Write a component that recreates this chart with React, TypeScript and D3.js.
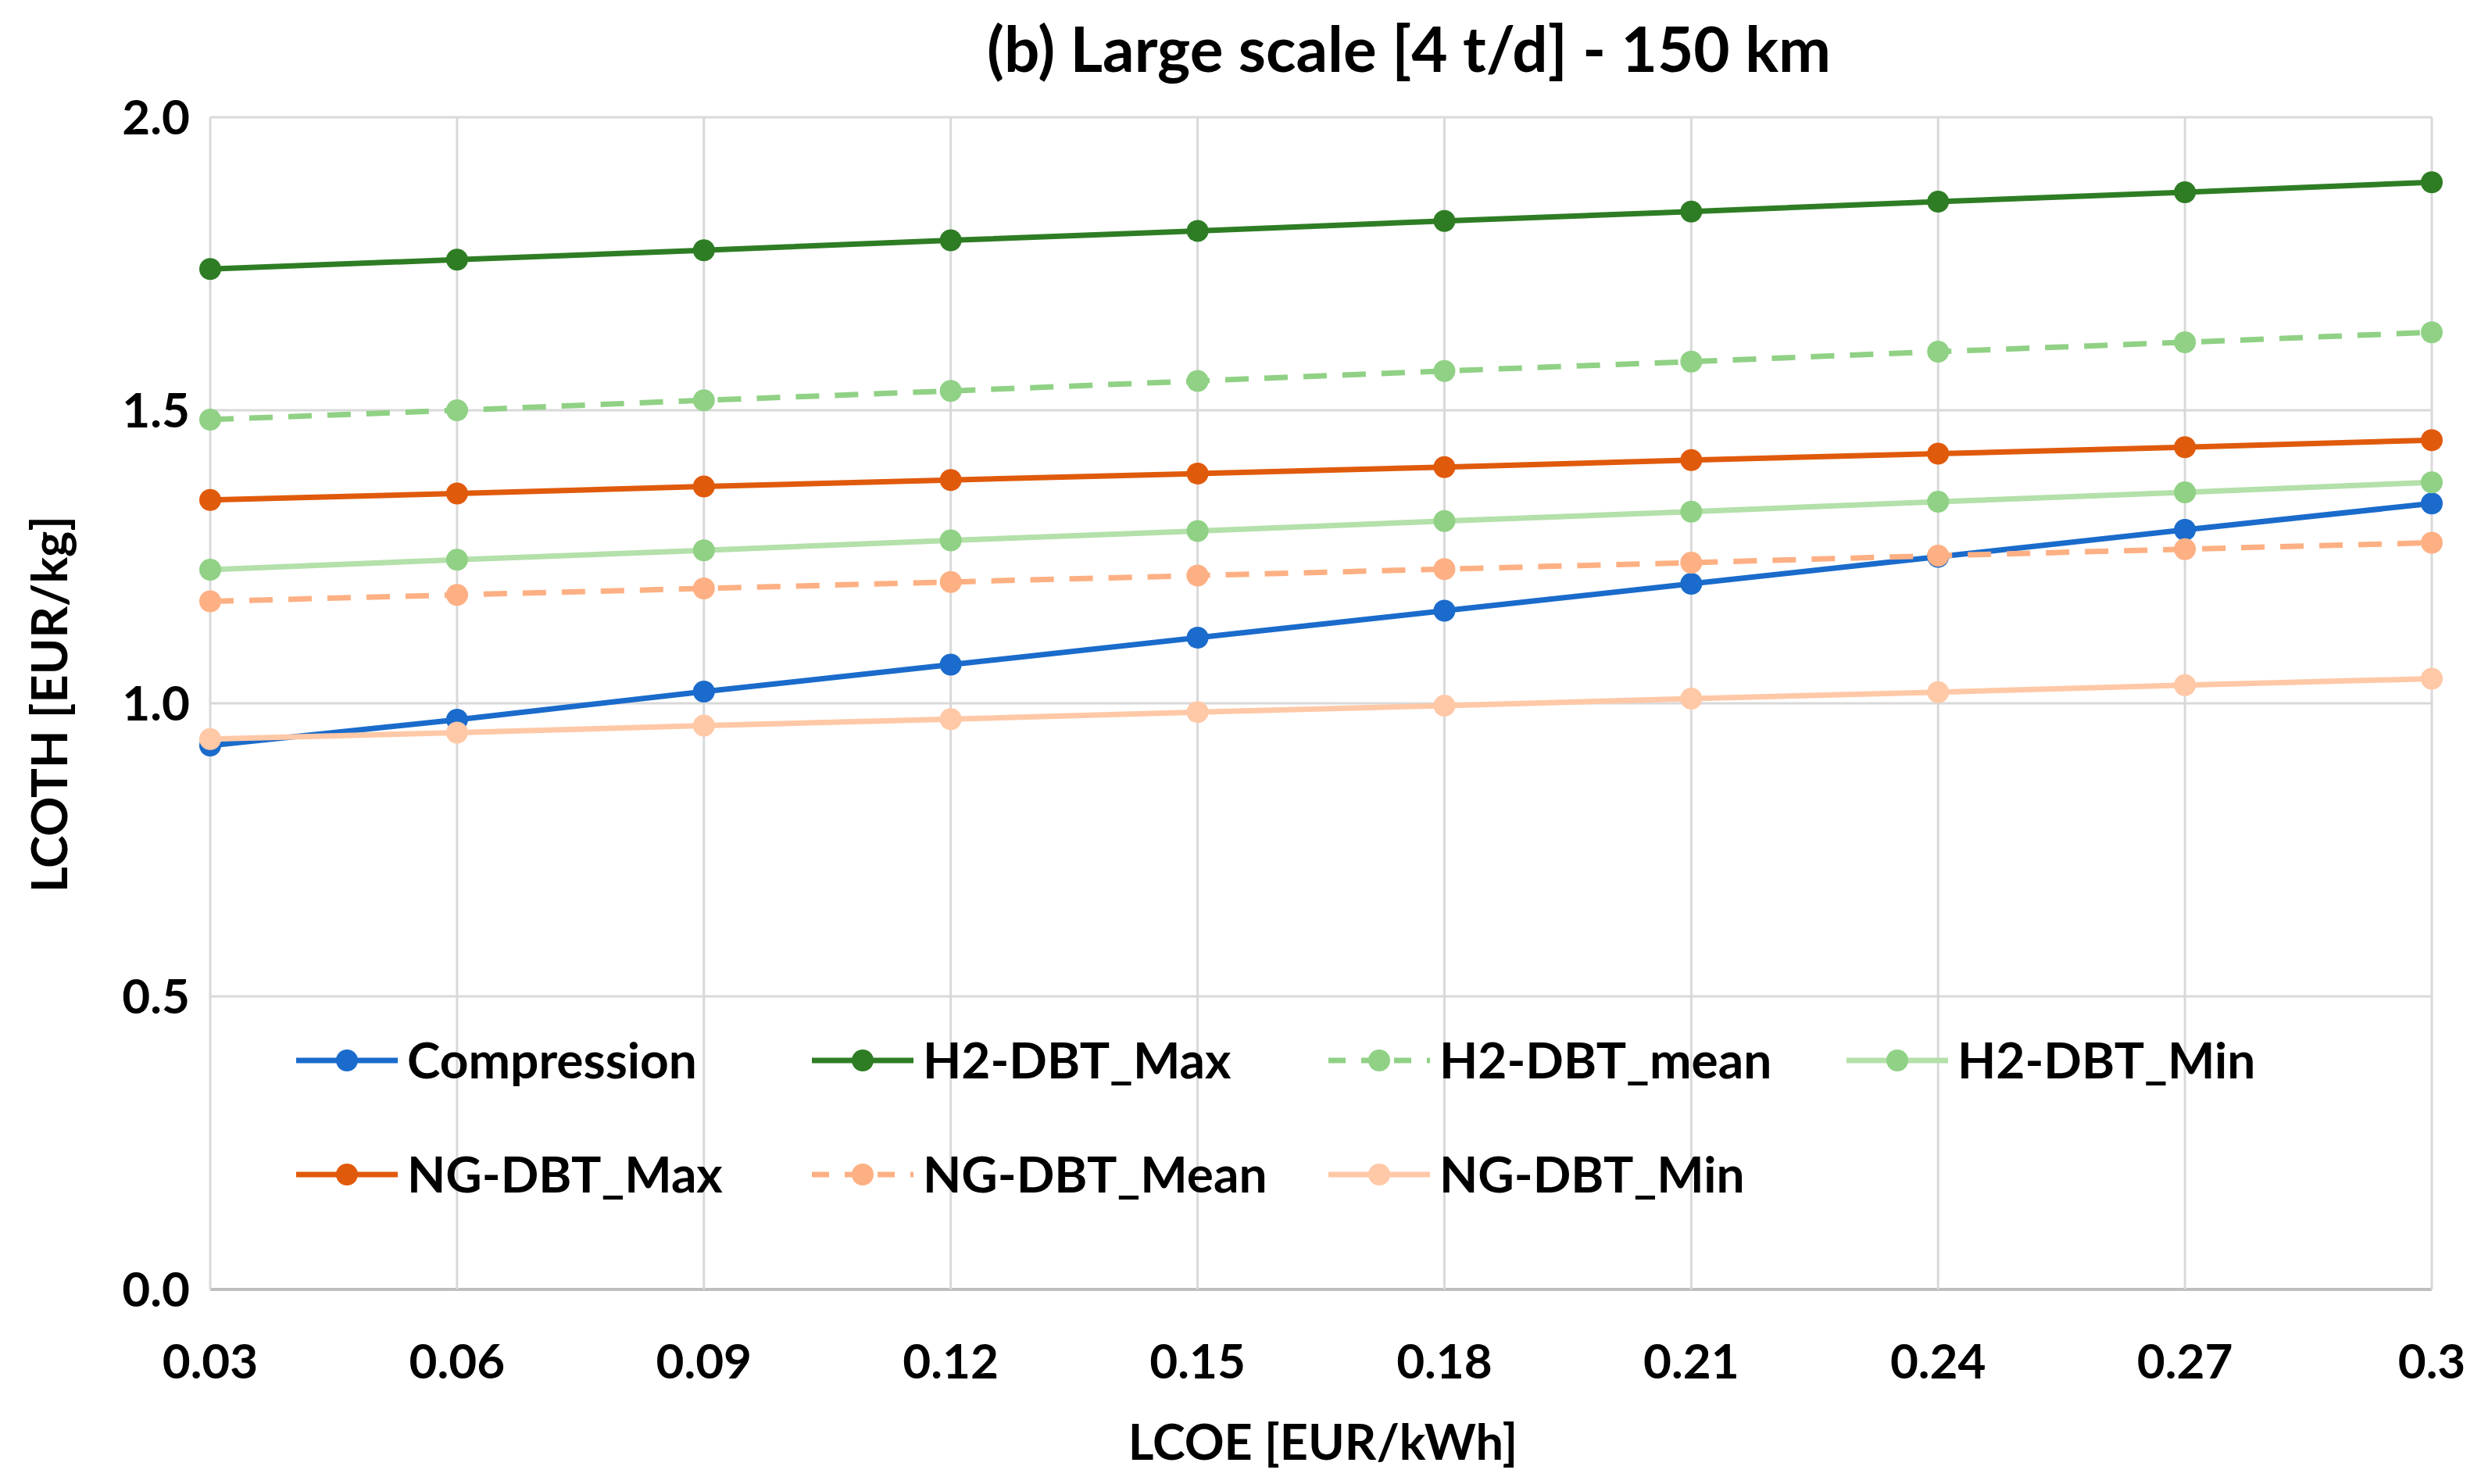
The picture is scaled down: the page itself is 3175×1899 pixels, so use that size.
import React from "react";
import * as d3 from "d3";

const lcoe = [0.03, 0.06, 0.09, 0.12, 0.15, 0.18, 0.21, 0.24, 0.27, 0.3];
const xTickLabels = ["0.03", "0.06", "0.09", "0.12", "0.15", "0.18", "0.21", "0.24", "0.27", "0.3"];
const yTicks = [0, 0.5, 1.0, 1.5, 2.0];

const compression = [0.928, 0.972, 1.02, 1.066, 1.112, 1.158, 1.204, 1.25, 1.296, 1.341];
const h2Max = [1.741, 1.757, 1.773, 1.79, 1.806, 1.823, 1.839, 1.856, 1.872, 1.889];
const h2Mean = [1.484, 1.5, 1.517, 1.533, 1.55, 1.567, 1.583, 1.6, 1.616, 1.633];
const h2Min = [1.228, 1.245, 1.261, 1.278, 1.294, 1.311, 1.327, 1.344, 1.36, 1.377];
const ngMax = [1.347, 1.358, 1.37, 1.381, 1.392, 1.403, 1.415, 1.426, 1.437, 1.449];
const ngMean = [1.174, 1.185, 1.196, 1.207, 1.218, 1.229, 1.24, 1.252, 1.263, 1.274];
const ngMin = [0.939, 0.95, 0.962, 0.973, 0.985, 0.996, 1.008, 1.019, 1.031, 1.042];

const seriesNames = ["Compression", "H2-DBT_Max", "H2-DBT_mean", "H2-DBT_Min", "NG-DBT_Max", "NG-DBT_Mean", "NG-DBT_Min"];
const seriesValues = [compression, h2Max, h2Mean, h2Min, ngMax, ngMean, ngMin];
const lineColors = ["#1A6BCB", "#2E7D24", "#90D185", "#B4E0AA", "#E05A0C", "#FDB083", "#FFC8A6"];
const markerColors = ["#1A6BCB", "#2E7D24", "#90D185", "#90D185", "#E05A0C", "#FDB083", "#FFC8A6"];
const dashed = [false, false, true, false, false, true, false];

const title = "(b) Large scale [4 t/d] - 150 km";
const xTitle = "LCOE [EUR/kWh]";
const yTitle = "LCOTH [EUR/kg]";

const W = 3175;
const H = 1899;
const FONT = "Lato, 'Open Sans', sans-serif";

export default function App() {
  const left = 269, right = 3112, top = 150, bottom = 1650;
  const x = d3.scaleLinear().domain([0.03, 0.3]).range([left, right]);
  const y = d3.scaleLinear().domain([0, 2]).range([bottom, top]);
  const line = d3.line<number>().x((_, i) => x(lcoe[i])).y((d) => y(d));

  const legendCols = [379, 1039, 1700, 2363];
  const legendRows = [1357, 1503];
  const legendPos = [
    [0, 0], [1, 0], [2, 0], [3, 0],
    [0, 1], [1, 1], [2, 1],
  ];
  const dashArr = "30 20";

  return (
    <svg width={W} height={H} style={{ position: "absolute", left: 0, top: 0, background: "#fff" }} fontFamily={FONT}>
      <rect x={0} y={0} width={W} height={H} fill="#fff" />
      {/* gridlines */}
      {yTicks.map((t) => (
        <line key={"gy" + t} x1={left} x2={right} y1={y(t)} y2={y(t)} stroke={t === 0 ? "#BFBFBF" : "#D9D9D9"} strokeWidth={t === 0 ? 4 : 3} />
      ))}
      {lcoe.map((v) => (
        <line key={"gx" + v} x1={x(v)} x2={x(v)} y1={top} y2={bottom} stroke="#D9D9D9" strokeWidth={3} />
      ))}
      {/* y tick labels */}
      {yTicks.map((t) => (
        <text key={"ty" + t} x={243} y={y(t)} dy="0.36em" textAnchor="end" fontSize={62} fontWeight={700} fill="#000">
          {d3.format(".1f")(t)}
        </text>
      ))}
      {/* x tick labels */}
      {lcoe.map((v, i) => (
        <text key={"tx" + v} x={x(v)} y={1764} textAnchor="middle" fontSize={62} fontWeight={700} fill="#000">
          {xTickLabels[i]}
        </text>
      ))}
      {/* series */}
      {seriesValues.map((vals, s) => (
        <g key={"s" + s}>
          <path d={line(vals) || ""} fill="none" stroke={lineColors[s]} strokeWidth={7} strokeDasharray={dashed[s] ? dashArr : undefined} />
          {vals.map((v, i) => (
            <circle key={i} cx={x(lcoe[i])} cy={y(v)} r={14} fill={markerColors[s]} />
          ))}
        </g>
      ))}
      {/* legend */}
      {seriesNames.map((name, s) => {
        const lx = legendCols[legendPos[s][0]];
        const ly = legendRows[legendPos[s][1]];
        return (
          <g key={"l" + s}>
            <line x1={lx} x2={lx + 130} y1={ly} y2={ly} stroke={lineColors[s]} strokeWidth={7} strokeDasharray={dashed[s] ? "22 20" : undefined} />
            <circle cx={lx + 65} cy={ly} r={14} fill={markerColors[s]} />
            <text x={lx + 142} y={ly} dy="0.36em" fontSize={64} fontWeight={700} fill="#000">{name}</text>
          </g>
        );
      })}
      {/* titles */}
      <text x={1803} y={92} textAnchor="middle" fontSize={80} fontWeight={700} fill="#000">{title}</text>
      <text x={1693} y={1868} textAnchor="middle" fontSize={63} fontWeight={700} fill="#000">{xTitle}</text>
      <text transform={`translate(86, 901) rotate(-90)`} textAnchor="middle" fontSize={63} fontWeight={700} fill="#000">{yTitle}</text>
    </svg>
  );
}
